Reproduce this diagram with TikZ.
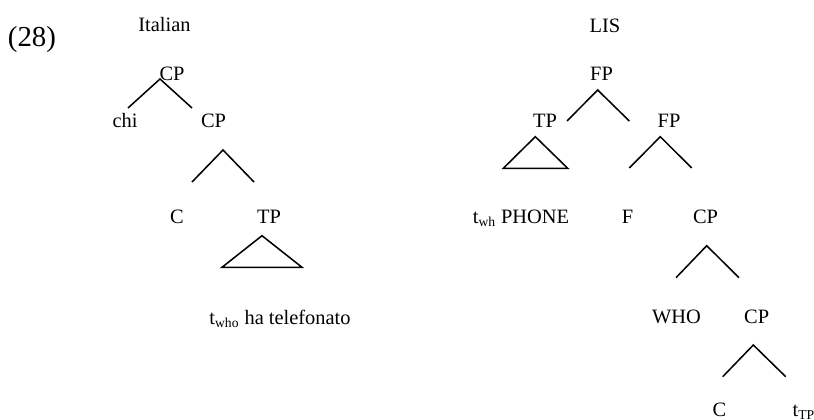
\documentclass[tikz,border=0pt]{standalone}
\usepackage{fontspec}
\setmainfont{Liberation Serif}

\tikzset{
  lbl/.style={inner sep=0,outer sep=0,anchor=base},
  branch/.style={line width=0.9pt,line join=miter}
}

\begin{document}
\begin{tikzpicture}[x=0.588pt,y=-0.588pt,font=\fontsize{12}{14}\selectfont]
	\useasboundingbox (0,0) rectangle (814,419);
	\clip (0,0) rectangle (814,419);
	\node[lbl,font=\fontsize{17}{20}\selectfont] (ex) at (32,46.5) {(28)};
	% Italian
	\node[lbl] (it) at (164.5,31.5) {Italian};
	\node[lbl] (icp1) at (172,80) {CP};
	\node[lbl] (ichi) at (125,127) {chi};
	\node[lbl] (icp2) at (213.5,127) {CP};
	\node[lbl] (ic) at (177,223) {C};
	\node[lbl] (itp) at (269,223) {TP};
	\node[lbl] (itwho) at (280,324) {t\textsubscript{who} ha telefonato};
	\coordinate (i1) at (160,79);
	\coordinate (i1l) at (128,108);
	\coordinate (i1r) at (192,108);
	\coordinate (i2) at (223,150);
	\coordinate (i2l) at (192,182);
	\coordinate (i2r) at (254,182);
	\coordinate (i3) at (262,235.7);
	\coordinate (i3l) at (222,267.3);
	\coordinate (i3r) at (302,267.3);
	\draw[branch] (i1l) -- (i1) -- (i1r);
	\draw[branch] (i2l) -- (i2) -- (i2r);
	\draw[branch] (i3) -- (i3l) -- (i3r) -- cycle;
	% LIS
	\node[lbl] (lis) at (605,32) {LIS};
	\node[lbl] (lfp1) at (601.5,80) {FP};
	\node[lbl] (ltp) at (545,127) {TP};
	\node[lbl] (lfp2) at (669,127) {FP};
	\node[lbl] (lphone) at (521,223) {t\textsubscript{wh} PHONE};
	\node[lbl] (lf) at (627.5,223) {F};
	\node[lbl] (lcp1) at (705.5,223) {CP};
	\node[lbl] (lwho) at (676.5,323) {WHO};
	\node[lbl] (lcp2) at (756.7,323) {CP};
	\node[lbl] (lc) at (719.3,416) {C};
	\node[lbl,anchor=base west] (lttp) at (792.7,416) {t\textsubscript{TP}};
	\coordinate (l1) at (597.7,90);
	\coordinate (l1l) at (567,121);
	\coordinate (l1r) at (629.3,121);
	\coordinate (l2) at (535.3,136.7);
	\coordinate (l2l) at (503.3,168.3);
	\coordinate (l2r) at (567.7,168.3);
	\coordinate (l3) at (660.3,136.7);
	\coordinate (l3l) at (629.3,168);
	\coordinate (l3r) at (691.7,168);
	\coordinate (l4) at (706.7,245.7);
	\coordinate (l4l) at (676,277.7);
	\coordinate (l4r) at (739,277.7);
	\coordinate (l5) at (753.3,345);
	\coordinate (l5l) at (722.7,376.7);
	\coordinate (l5r) at (785.7,376.7);
	\draw[branch] (l1l) -- (l1) -- (l1r);
	\draw[branch] (l2) -- (l2l) -- (l2r) -- cycle;
	\draw[branch] (l3l) -- (l3) -- (l3r);
	\draw[branch] (l4l) -- (l4) -- (l4r);
	\draw[branch] (l5l) -- (l5) -- (l5r);
\end{tikzpicture}
\end{document}
